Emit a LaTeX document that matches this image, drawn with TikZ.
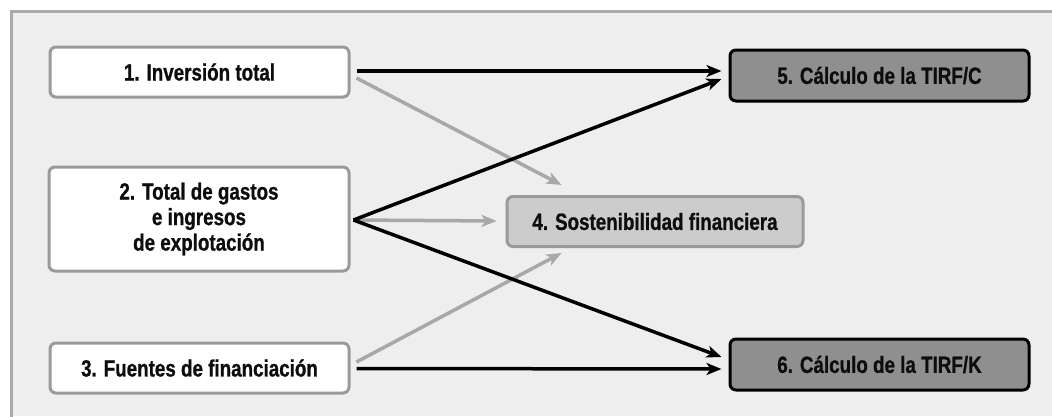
\documentclass[tikz,border=0pt]{standalone}
\usepackage{fontspec}
\newfontfamily\cf{Liberation Sans}[FakeStretch=0.8, BoldFeatures={FakeBold=0.8}]
\usetikzlibrary{arrows.meta,calc}
\definecolor{bgc}{HTML}{EEEEEE}
\definecolor{framec}{HTML}{AAAAAA}
\definecolor{lbord}{HTML}{9A9A9A}
\definecolor{midfill}{HTML}{CCCCCC}
\definecolor{darkfill}{HTML}{8F8F8F}
\definecolor{garrow}{HTML}{A8A8A8}
\tikzset{
  boxbase/.style={rounded corners=6pt, line width=3pt, align=center, inner sep=0pt,
    font=\cf\bfseries\fontsize{23.5}{25.5}\selectfont, text=black!95},
  lightbox/.style={boxbase, draw=lbord, fill=white},
  midbox/.style={boxbase, draw=lbord, fill=midfill},
  darkbox/.style={boxbase, draw=black, fill=darkfill},
  blk/.style={line width=3.5pt, draw=black, -{Stealth[length=15pt,width=12pt,inset=4pt]}},
  gry/.style={line width=3.5pt, draw=garrow, -{Stealth[length=15pt,width=12pt,inset=4pt]}},
}
\begin{document}
\begin{tikzpicture}[x=1pt,y=-1pt]
\useasboundingbox (0,0) rectangle (1052,416);
\fill[white] (0,0) rectangle (1052,416);
\fill[bgc] (11,11) rectangle (1052,416);
\draw[framec, line width=3pt] (11,418) -- (11,11) -- (1054,11);

\node[lightbox, minimum width=299pt, minimum height=50pt] (b1) at (199.5,72) {1. Inversión total};
\node[lightbox, minimum width=300pt, minimum height=104pt] (b2) at (199,219) {2. Total de gastos\\e ingresos\\de explotación};
\node[lightbox, minimum width=299pt, minimum height=50pt] (b3) at (199.5,368) {3. Fuentes de financiación};
\node[midbox, minimum width=296pt, minimum height=50pt] (b4) at (655,221.5) {4. Sostenibilidad financiera};
\node[darkbox, minimum width=299pt, minimum height=51pt] (b5) at (879.5,75.5) {5. Cálculo de la TIRF/C};
\node[darkbox, minimum width=299pt, minimum height=51pt] (b6) at (879.5,364.5) {6. Cálculo de la TIRF/K};

\coordinate (apex) at ($(b2.east)+(3,1)$);

\draw[gry] ($(b1.east)+(6,6)$) -- ($(b4.north west)+(56,-10)$);
\draw[gry] (apex) -- ($(b4.west)+(-9,-0.5)$);
\draw[gry] ($(b3.east)+(6,-6)$) -- ($(b4.south west)+(56,5)$);

\draw[blk] ($(b1.east)+(6,-1)$) -- ($(b5.west)+(-7,-4.5)$);
\draw[blk] (apex) -- ($(b5.west)+(-7,3.5)$);
\draw[blk] (apex) -- ($(b6.west)+(-7,-7.5)$);
\draw[blk] ($(b3.east)+(6,0.5)$) -- ($(b6.west)+(-7,4.5)$);
\end{tikzpicture}
\end{document}
